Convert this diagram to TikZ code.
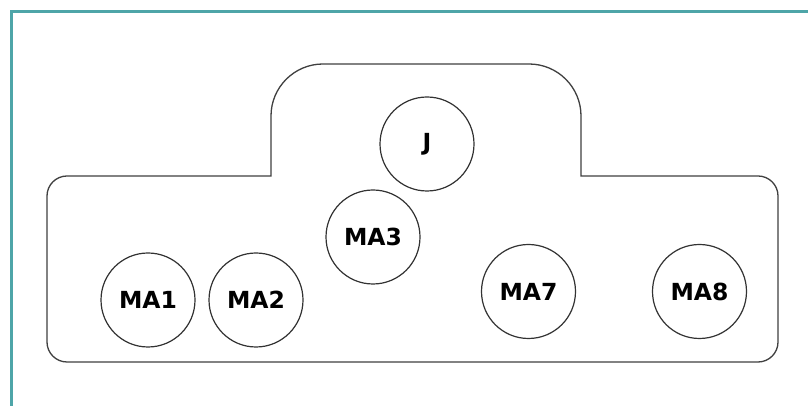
\documentclass[tikz,border=0pt]{standalone}
\usepackage{fontspec}
\setmainfont{DejaVu Sans}
\begin{document}
\begin{tikzpicture}[x=1pt,y=1pt,
  outline/.style={draw=black!75, line width=1.3pt},
  unit/.style={circle, draw=black!80, line width=1.2pt, fill=white,
    minimum size=94pt, inner sep=0pt,
    font=\fontsize{23.5}{26}\selectfont\bfseries},
  frameline/.style={draw={rgb,255:red,78;green,165;blue,168}, line width=3pt}]
  % page area
  \useasboundingbox (0,0) rectangle (808,406);
  \fill[white] (0,0) rectangle (808,406);
  % teal frame along the top and left edges
  \coordinate (fbl) at (11.5,0);
  \coordinate (ftl) at (11.5,394);
  \coordinate (ftr) at (808,394);
  \draw[frameline] (fbl) -- (ftl) -- (ftr);
  % enclosure: wide lower body with a raised middle section
  \draw[outline] (67,44) -- (758,44)
    arc[start angle=-90, end angle=0, radius=20pt] -- (778,210)
    arc[start angle=0, end angle=90, radius=20pt] -- (581,230) -- (581,290)
    arc[start angle=0, end angle=90, radius=52pt] -- (323,342)
    arc[start angle=90, end angle=180, radius=52pt] -- (271,230) -- (67,230)
    arc[start angle=90, end angle=180, radius=20pt] -- (47,64)
    arc[start angle=180, end angle=270, radius=20pt] -- cycle;
  % units
  \node[unit] (J)   at (427,262) {J};
  \node[unit] (MA3) at (373,169) {MA3};
  \node[unit] (MA1) at (148,106) {MA1};
  \node[unit] (MA2) at (256,106) {MA2};
  \node[unit] (MA7) at (528.5,114.5) {MA7};
  \node[unit] (MA8) at (699.5,114.5) {MA8};
\end{tikzpicture}
\end{document}
